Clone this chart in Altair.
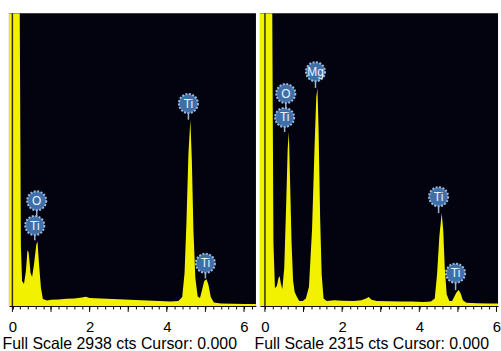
import altair as alt
import pandas as pd

# ---------------- data ----------------
LEFT_FULL_SCALE = 2938
RIGHT_FULL_SCALE = 2315

LEFT_KEV = [-0.09, 0.19, 0.22, 0.25, 0.30, 0.35, 0.39, 0.42, 0.47, 0.51, 0.56, 0.62, 0.65,
            0.69, 0.74, 0.79, 0.90, 1.00, 1.20, 1.40, 1.60, 1.80, 1.90, 2.00, 2.30, 2.60,
            2.90, 3.20, 3.50, 3.80, 4.10, 4.30, 4.40, 4.46, 4.51, 4.56, 4.61, 4.65, 4.69,
            4.74, 4.80, 4.86, 4.92, 4.97, 5.03, 5.08, 5.14, 5.22, 5.40, 5.70, 6.00, 6.31]
LEFT_CTS = [9000, 9000, 600, 250, 220, 350, 560, 540, 330, 290, 420, 620, 647,
            420, 180, 70, 55, 62, 66, 72, 76, 86, 92, 80, 76, 70,
            66, 60, 56, 50, 46, 50, 90, 330, 850, 1520, 1870, 1450, 760,
            280, 95, 80, 170, 250, 269, 210, 90, 35, 26, 22, 20, 20]

RIGHT_KEV = [-0.13, 0.19, 0.22, 0.26, 0.31, 0.35, 0.38, 0.41, 0.45, 0.50, 0.55, 0.59, 0.62,
             0.65, 0.69, 0.73, 0.77, 0.83, 0.89, 0.98, 1.06, 1.14, 1.22, 1.29, 1.33, 1.36,
             1.39, 1.43, 1.47, 1.52, 1.60, 1.80, 2.00, 2.30, 2.50, 2.62, 2.69, 2.76, 2.90,
             3.20, 3.50, 3.80, 4.10, 4.30, 4.40, 4.46, 4.52, 4.58, 4.62, 4.66, 4.71, 4.78,
             4.85, 4.92, 4.97, 5.02, 5.07, 5.13, 5.22, 5.50, 5.80, 6.04]
RIGHT_CTS = [9000, 9000, 500, 140, 160, 220, 238, 180, 133, 300, 800, 1250, 1376,
             1000, 500, 200, 110, 70, 40, 40, 60, 150, 600, 1300, 1650, 1725,
             1400, 700, 250, 60, 40, 45, 42, 40, 45, 60, 70, 50, 40,
             38, 35, 35, 32, 35, 60, 250, 550, 735, 600, 300, 90, 40,
             40, 80, 110, 126, 100, 45, 25, 22, 20, 20]

LEFT_LABELS = ["Ti", "O", "Ti", "Ti"]
LEFT_LABEL_KEV = [4.56, 0.63, 0.58, 5.00]
LEFT_LABEL_CTS = [2032, 1056, 807, 428]
LEFT_STEM_END = [1870, 807, 660, 275]

RIGHT_LABELS = ["Mg", "O", "Ti", "Ti", "Ti"]
RIGHT_LABEL_KEV = [1.31, 0.54, 0.51, 4.50, 4.94]
RIGHT_LABEL_CTS = [1853, 1680, 1491, 864, 259]
RIGHT_STEM_END = [1725, 1491, 1376, 735, 126]

CURSOR = [0.0]
MINOR_TICKS = [0.0, 0.2, 0.4, 0.6, 0.8, 1.0, 1.2, 1.4, 1.6, 1.8, 2.0, 2.2, 2.4, 2.6, 2.8,
               3.0, 3.2, 3.4, 3.6, 3.8, 4.0, 4.2, 4.4, 4.6, 4.8, 5.0, 5.2, 5.4, 5.6, 5.8,
               6.0, 6.2]
MAJOR_TICKS = [0, 1, 2, 3, 4, 5, 6]

LEFT_TITLE = "Full Scale 2938 cts Cursor: 0.000"
RIGHT_TITLE = "Full Scale 2315 cts Cursor: 0.000"

HEIGHT = 295
FONT = "Liberation Sans"


def panel(kev, cts, fs, labels, lkev, lcts, lstem, domain, width, title, title_x):
    spec = pd.DataFrame({"keV": kev, "cts": cts})
    lab = pd.DataFrame({"keV": lkev, "cts": lcts, "end": lstem, "label": labels})
    cur = pd.DataFrame({"keV": CURSOR})
    maj = pd.DataFrame({"keV": MAJOR_TICKS})

    xscale = alt.Scale(domain=domain, nice=False, zero=False)
    yscale = alt.Scale(domain=[0, fs], nice=False, clamp=True)
    axis = alt.Axis(
        values=MINOR_TICKS, tickSize=3, tickColor="#000000", tickWidth=1,
        domainColor="#000000", domainWidth=1, grid=False,
        labelExpr="abs(datum.value - 2*round(datum.value/2)) < 0.01 ? format(datum.value, 'd') : ''",
        labelFont=FONT, labelFontSize=15, labelColor="#000000", labelPadding=11,
        labelOverlap=False, labelFlush=False,
        title=title, titleFont=FONT, titleFontSize=16, titleFontWeight="normal",
        titleColor="#000000", titleAnchor="start", titleAlign="left",
        titleX=title_x, titleY=43, titleBaseline="alphabetic",
    )

    def X():
        return alt.X("keV:Q", scale=xscale, axis=axis)

    area = alt.Chart(spec).mark_area(color="#f2f200", interpolate="linear", clip=True, opacity=1).encode(
        x=X(), y=alt.Y("cts:Q", scale=yscale, axis=None)
    )
    cursor = alt.Chart(cur).mark_rule(color="#35300c", strokeWidth=1.5).encode(
        x=X(), y=alt.value(0), y2=alt.value(HEIGHT)
    )
    stems = alt.Chart(lab).mark_rule(color="#9fb3d3", strokeWidth=1.5).encode(
        x=X(), y=alt.Y("cts:Q", scale=yscale, axis=None), y2="end:Q"
    )
    circles = alt.Chart(lab).mark_circle(
        size=370, color="#3f6fa8", stroke="#9ab8dc", strokeWidth=2, strokeDash=[2, 1.5], opacity=1
    ).encode(x=X(), y=alt.Y("cts:Q", scale=yscale, axis=None))
    texts = alt.Chart(lab).mark_text(
        font=FONT, fontSize=12, color="#eef3ff", align="center", baseline="middle"
    ).encode(x=X(), y=alt.Y("cts:Q", scale=yscale, axis=None), text="label:N")
    majors = alt.Chart(maj).mark_rule(color="#000000", strokeWidth=1).encode(
        x=X(), y=alt.value(HEIGHT), y2=alt.value(HEIGHT + 6)
    )
    return alt.layer(area, cursor, stems, circles, texts, majors).properties(width=width, height=HEIGHT)


left = panel(LEFT_KEV, LEFT_CTS, LEFT_FULL_SCALE, LEFT_LABELS, LEFT_LABEL_KEV, LEFT_LABEL_CTS,
             LEFT_STEM_END, [-0.09, 6.31], 249, LEFT_TITLE, -7)
right = panel(RIGHT_KEV, RIGHT_CTS, RIGHT_FULL_SCALE, RIGHT_LABELS, RIGHT_LABEL_KEV, RIGHT_LABEL_CTS,
              RIGHT_STEM_END, [-0.13, 6.04], 240, RIGHT_TITLE, -6)

chart = alt.hconcat(left, right, spacing=4, bounds="flush").properties(
    padding={"left": 2, "top": 11, "right": 0, "bottom": 0},
    background="white",
).configure_view(fill="#03030f", stroke=None)

chart.save("out.html", embed_options={"renderer": "svg", "actions": False})
